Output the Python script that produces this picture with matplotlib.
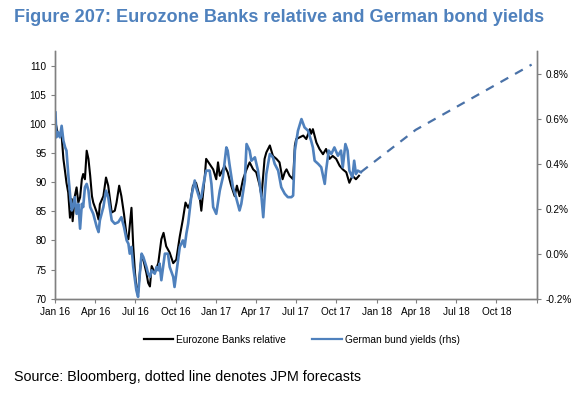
import matplotlib
matplotlib.use("Agg")
import matplotlib.pyplot as plt
from matplotlib.ticker import FuncFormatter
import pandas as pd

# Eurozone Banks relative (lhs)
banks_dates = [
    "2016-01-01", "2016-01-07", "2016-01-11", "2016-01-15", "2016-01-19", "2016-01-23",
    "2016-01-26", "2016-01-30", "2016-02-03", "2016-02-07", "2016-02-09", "2016-02-14",
    "2016-02-18", "2016-02-22", "2016-02-26", "2016-03-01", "2016-03-04", "2016-03-08",
    "2016-03-12", "2016-03-16", "2016-03-20", "2016-03-24", "2016-03-27", "2016-04-04",
    "2016-04-08", "2016-04-11", "2016-04-19", "2016-04-25", "2016-04-30", "2016-05-08",
    "2016-05-15", "2016-05-19", "2016-05-25", "2016-05-30", "2016-06-05", "2016-06-11",
    "2016-06-15", "2016-06-18", "2016-06-22", "2016-06-26", "2016-06-30", "2016-07-03",
    "2016-07-07", "2016-07-11", "2016-07-15", "2016-07-19", "2016-07-26", "2016-07-30",
    "2016-08-03", "2016-08-07", "2016-08-14", "2016-08-22", "2016-08-29", "2016-09-03",
    "2016-09-09", "2016-09-17", "2016-09-25", "2016-10-02", "2016-10-10", "2016-10-17",
    "2016-10-23", "2016-10-29", "2016-11-03", "2016-11-09", "2016-11-16", "2016-11-24",
    "2016-11-28", "2016-12-06", "2016-12-09", "2016-12-17", "2016-12-25", "2017-01-01",
    "2017-01-05", "2017-01-09", "2017-01-20", "2017-01-27", "2017-02-04", "2017-02-12",
    "2017-02-17", "2017-02-23", "2017-03-03", "2017-03-11", "2017-03-18", "2017-03-26",
    "2017-04-02", "2017-04-10", "2017-04-14", "2017-04-21", "2017-04-25", "2017-05-03",
    "2017-05-10", "2017-05-18", "2017-05-25", "2017-06-01", "2017-06-06", "2017-06-10",
    "2017-06-17", "2017-06-25", "2017-06-29", "2017-07-02", "2017-07-18", "2017-07-25",
    "2017-08-02", "2017-08-05", "2017-08-09", "2017-08-17", "2017-08-24", "2017-09-01",
    "2017-09-08", "2017-09-16", "2017-09-23", "2017-10-01", "2017-10-09", "2017-10-16",
    "2017-10-24", "2017-10-31", "2017-11-07", "2017-11-15", "2017-11-22",
]
banks_values = [
    100.3, 98.0, 98.3, 98.0, 94.0, 91.7,
    89.9, 88.2, 83.9, 87.1, 83.3, 87.6,
    89.1, 86.5, 87.4, 90.5, 91.4, 90.5,
    95.4, 94.0, 91.1, 87.6, 86.5, 84.8,
    83.6, 86.2, 87.6, 90.8, 89.4, 84.8,
    85.1, 86.5, 89.4, 87.6, 84.5, 80.7,
    80.2, 82.5, 85.6, 79.0, 74.4, 72.1,
    71.0, 74.4, 77.3, 76.7, 74.4, 72.7,
    72.1, 75.6, 74.4, 76.1, 80.2, 81.3,
    79.0, 77.9, 76.1, 76.7, 80.7, 83.6,
    86.5, 85.6, 86.5, 89.4, 89.9, 87.6,
    85.1, 91.1, 94.0, 93.1, 92.2, 90.5,
    93.4, 91.1, 92.8, 91.7, 89.4, 87.6,
    89.4, 87.6, 90.5, 92.2, 93.4, 92.2,
    91.7, 89.4, 87.6, 94.0, 95.1, 96.3,
    94.5, 94.0, 93.4, 90.5, 91.7, 92.2,
    91.1, 90.5, 96.3, 97.4, 98.0, 97.4,
    99.1, 98.3, 99.1, 96.8, 95.7, 94.8,
    95.7, 94.0, 94.5, 94.0, 92.8, 92.2,
    91.7, 89.9, 91.1, 90.5, 91.1,
]

# German bund yields (rhs, %)
bund_dates = [
    "2016-01-01", "2016-01-03", "2016-01-07", "2016-01-11", "2016-01-15", "2016-01-19",
    "2016-01-23", "2016-01-26", "2016-01-30", "2016-02-03", "2016-02-07", "2016-02-10",
    "2016-02-14", "2016-02-18", "2016-02-22", "2016-02-26", "2016-03-01", "2016-03-04",
    "2016-03-08", "2016-03-12", "2016-03-16", "2016-03-20", "2016-03-27", "2016-04-04",
    "2016-04-08", "2016-04-11", "2016-04-19", "2016-04-25", "2016-04-30", "2016-05-08",
    "2016-05-15", "2016-05-23", "2016-05-30", "2016-06-05", "2016-06-11", "2016-06-15",
    "2016-06-18", "2016-06-22", "2016-06-26", "2016-06-30", "2016-07-03", "2016-07-07",
    "2016-07-11", "2016-07-15", "2016-07-19", "2016-07-26", "2016-07-30", "2016-08-03",
    "2016-08-07", "2016-08-14", "2016-08-18", "2016-08-22", "2016-08-25", "2016-08-29",
    "2016-09-02", "2016-09-06", "2016-09-13", "2016-09-17", "2016-09-25", "2016-09-28",
    "2016-10-02", "2016-10-10", "2016-10-17", "2016-10-21", "2016-10-25", "2016-10-29",
    "2016-11-05", "2016-11-13", "2016-11-16", "2016-11-24", "2016-11-28", "2016-12-03",
    "2016-12-09", "2016-12-17", "2016-12-21", "2016-12-25", "2017-01-01", "2017-01-09",
    "2017-01-16", "2017-01-24", "2017-01-27", "2017-01-31", "2017-02-08", "2017-02-15",
    "2017-02-23", "2017-02-27", "2017-03-07", "2017-03-11", "2017-03-18", "2017-03-22",
    "2017-03-30", "2017-04-06", "2017-04-14", "2017-04-18", "2017-04-21", "2017-04-25",
    "2017-05-03", "2017-05-10", "2017-05-14", "2017-05-18", "2017-05-22", "2017-05-29",
    "2017-06-06", "2017-06-13", "2017-06-21", "2017-06-25", "2017-06-29", "2017-07-06",
    "2017-07-14", "2017-07-21", "2017-07-29", "2017-08-05", "2017-08-09", "2017-08-13",
    "2017-08-21", "2017-08-28", "2017-09-05", "2017-09-08", "2017-09-14", "2017-09-20",
    "2017-09-27", "2017-10-05", "2017-10-12", "2017-10-16", "2017-10-22", "2017-10-27",
    "2017-10-31", "2017-11-07", "2017-11-11", "2017-11-15", "2017-11-19", "2017-11-26",
]
bund_values = [
    0.627, 0.517, 0.539, 0.517, 0.568, 0.502,
    0.472, 0.458, 0.354, 0.266, 0.192, 0.207,
    0.251, 0.177, 0.221, 0.111, 0.221, 0.207,
    0.295, 0.310, 0.280, 0.207, 0.177, 0.118,
    0.096, 0.148, 0.207, 0.280, 0.251, 0.148,
    0.133, 0.140, 0.162, 0.118, 0.059, 0.044,
    0.000, 0.030, -0.059, -0.118, -0.162, -0.192,
    -0.089, 0.000, -0.015, -0.059, -0.089, -0.103,
    -0.074, -0.089, -0.059, -0.074, -0.044, -0.118,
    -0.059, 0.000, 0.000, -0.059, -0.103, -0.148,
    -0.089, 0.030, 0.059, 0.030, 0.089, 0.133,
    0.251, 0.325, 0.295, 0.244, 0.251, 0.310,
    0.369, 0.369, 0.310, 0.207, 0.177, 0.280,
    0.339, 0.472, 0.458, 0.399, 0.295, 0.251,
    0.192, 0.221, 0.325, 0.487, 0.458, 0.413,
    0.428, 0.369, 0.251, 0.162, 0.251, 0.354,
    0.443, 0.428, 0.399, 0.384, 0.369, 0.295,
    0.266, 0.251, 0.251, 0.258, 0.458, 0.546,
    0.598, 0.561, 0.546, 0.502, 0.472, 0.413,
    0.399, 0.384, 0.310, 0.369, 0.458, 0.443,
    0.472, 0.435, 0.458, 0.384, 0.487, 0.458,
    0.369, 0.339, 0.413, 0.354, 0.369, 0.362,
]

# JPM forecast (dashed)
fcst_dates = ["2017-11-26", "2018-03-31", "2018-12-20"]
fcst_values = [0.362, 0.55, 0.84]

tick_dates = pd.date_range("2016-01-01", "2019-01-01", freq="QS")
tick_labels = ["Jan 16", "Apr 16", "Jul 16", "Oct 16", "Jan 17", "Apr 17", "Jul 17",
               "Oct 17", "Jan 18", "Apr 18", "Jul 18", "Oct 18", ""]

BLUE = "#4F81BD"
GREY = "#808080"
FONT = ["Liberation Sans", "DejaVu Sans"]

fig = plt.figure(figsize=(5.86, 3.93), dpi=100)
ax = fig.add_axes([0.0947, 0.240, 0.8215, 0.630])
ax2 = ax.twinx()

ax.plot(pd.to_datetime(banks_dates), banks_values, color="black", lw=1.5)
ax2.plot(pd.to_datetime(bund_dates), bund_values, color=BLUE, lw=1.9)
ax2.plot(pd.to_datetime(fcst_dates), fcst_values, color="#4A72A8", lw=1.6,
         ls=(0, (4, 3.5)))

ax.set_xlim(pd.Timestamp("2016-01-01"), pd.Timestamp("2019-01-01"))
ax.set_ylim(70, 112.5)
ax2.set_ylim(-0.2, 0.9)
ax.set_yticks(range(70, 111, 5))
ax2.set_yticks([-0.2, 0.0, 0.2, 0.4, 0.6, 0.8])
ax2.yaxis.set_major_formatter(FuncFormatter(lambda v, p: f"{v:.1f}%"))
ax.set_xticks(tick_dates)
ax.set_xticklabels(tick_labels)

for a in (ax, ax2):
    a.spines["top"].set_visible(False)
    for s in ("left", "right", "bottom"):
        a.spines[s].set_color(GREY)
        a.spines[s].set_linewidth(1.0)
    a.tick_params(colors=GREY, length=3, width=0.8, labelcolor="black")
    for lbl in a.get_xticklabels() + a.get_yticklabels():
        lbl.set_fontfamily(FONT)
        lbl.set_fontsize(7.2)
ax.tick_params(axis="x", pad=3)

fig.text(0.024, 0.955, "Figure 207: Eurozone Banks relative and German bond yields",
         fontsize=13.1, fontweight="bold", color="#4F81BD", family=FONT, va="center")

leg_lines = [plt.Line2D([], [], color="black", lw=1.6),
             plt.Line2D([], [], color=BLUE, lw=1.6)]
fig.legend(leg_lines, ["Eurozone Banks relative", "German bund yields (rhs)"],
           loc="center", bbox_to_anchor=(0.515, 0.135), ncol=2, frameon=False,
           prop={"family": FONT, "size": 7.3}, handlelength=2.9, columnspacing=2.6,
           handletextpad=0.3)

fig.text(0.024, 0.04, "Source: Bloomberg, dotted line denotes JPM forecasts",
         fontsize=10.25, family=FONT, va="center")

fig.savefig("out.png", dpi=100)
